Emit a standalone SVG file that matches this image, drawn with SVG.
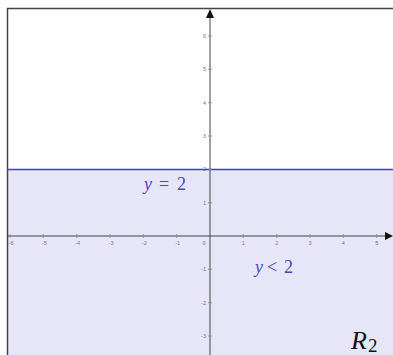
<svg xmlns="http://www.w3.org/2000/svg" width="393" height="355" viewBox="0 0 393 355">
<defs>
<style>
.tk{font-family:"Liberation Sans",Arial,sans-serif;font-size:5.5px;fill:#777}
.tick{stroke:#888;stroke-width:0.8}
.axis{stroke:#444;stroke-width:1}
.math{font-family:"Liberation Serif","Times New Roman",serif;font-style:italic;fill:#4646c4;font-size:18px}
.mathr{font-family:"Liberation Serif","Times New Roman",serif;fill:#4646c4;font-size:18px}
</style>
</defs>
<rect x="0" y="0" width="393" height="355" fill="#ffffff"/>
<g id="region">
<rect x="7" y="169.5" width="386" height="186" fill="#e6e6f8"/>
</g>
<g id="frame">
<path d="M7.5 355 V8.5 H393" fill="none" stroke="#444" stroke-width="1.5"/>
</g>
<g id="connectors">
<line class="axis" x1="7" y1="236" x2="388" y2="236"/>
<polygon points="393,236 385,232 385,240" fill="#111"/>
<line class="axis" x1="210" y1="355" x2="210" y2="16"/>
<polygon points="210,9 206,18 214,18" fill="#111"/>
<line x1="7" y1="169.5" x2="393" y2="169.5" stroke="#3c3cdc" stroke-width="1.4"/>
</g>
<g id="ticks">
<g class="tick">
<line x1="10" y1="234" x2="10" y2="238"/>
<line x1="43.3" y1="234" x2="43.3" y2="238"/>
<line x1="76.7" y1="234" x2="76.7" y2="238"/>
<line x1="110" y1="234" x2="110" y2="238"/>
<line x1="143.3" y1="234" x2="143.3" y2="238"/>
<line x1="176.7" y1="234" x2="176.7" y2="238"/>
<line x1="243.3" y1="234" x2="243.3" y2="238"/>
<line x1="276.7" y1="234" x2="276.7" y2="238"/>
<line x1="310" y1="234" x2="310" y2="238"/>
<line x1="343.3" y1="234" x2="343.3" y2="238"/>
<line x1="376.7" y1="234" x2="376.7" y2="238"/>
<line x1="208" y1="36" x2="212" y2="36"/>
<line x1="208" y1="69.3" x2="212" y2="69.3"/>
<line x1="208" y1="102.7" x2="212" y2="102.7"/>
<line x1="208" y1="136" x2="212" y2="136"/>
<line x1="208" y1="169.3" x2="212" y2="169.3"/>
<line x1="208" y1="202.7" x2="212" y2="202.7"/>
<line x1="208" y1="269.3" x2="212" y2="269.3"/>
<line x1="208" y1="302.7" x2="212" y2="302.7"/>
<line x1="208" y1="336" x2="212" y2="336"/>
</g>
<g class="tk" text-anchor="middle">
<text x="11" y="245">-6</text>
<text x="44.3" y="245">-5</text>
<text x="77.7" y="245">-4</text>
<text x="111" y="245">-3</text>
<text x="144.3" y="245">-2</text>
<text x="177.7" y="245">-1</text>
<text x="204" y="245">0</text>
<text x="243.3" y="245">1</text>
<text x="276.7" y="245">2</text>
<text x="310" y="245">3</text>
<text x="343.3" y="245">4</text>
<text x="376.7" y="245">5</text>
</g>
<g class="tk" text-anchor="end">
<text x="206" y="38">6</text>
<text x="206" y="71.3">5</text>
<text x="206" y="104.7">4</text>
<text x="206" y="138">3</text>
<text x="206" y="171.3">2</text>
<text x="206" y="204.7">1</text>
<text x="206" y="271.3">-1</text>
<text x="206" y="304.7">-2</text>
<text x="206" y="338">-3</text>
</g>
</g>
<g id="label-eq">
<text y="190"><tspan class="math" x="144">y</tspan><tspan class="mathr" x="159">=</tspan><tspan class="mathr" x="177">2</tspan></text>
</g>
<g id="label-ineq">
<text y="273"><tspan class="math" x="255">y</tspan><tspan class="mathr" x="267">&lt;</tspan><tspan class="mathr" x="284">2</tspan></text>
</g>
<g id="label-R2">
<text x="351" y="349" font-family="'Liberation Serif','Times New Roman',serif" font-style="italic" font-size="26" fill="#111">R</text>
<text x="368" y="352" font-family="'Liberation Serif','Times New Roman',serif" font-size="19" fill="#111">2</text>
</g>
</svg>
